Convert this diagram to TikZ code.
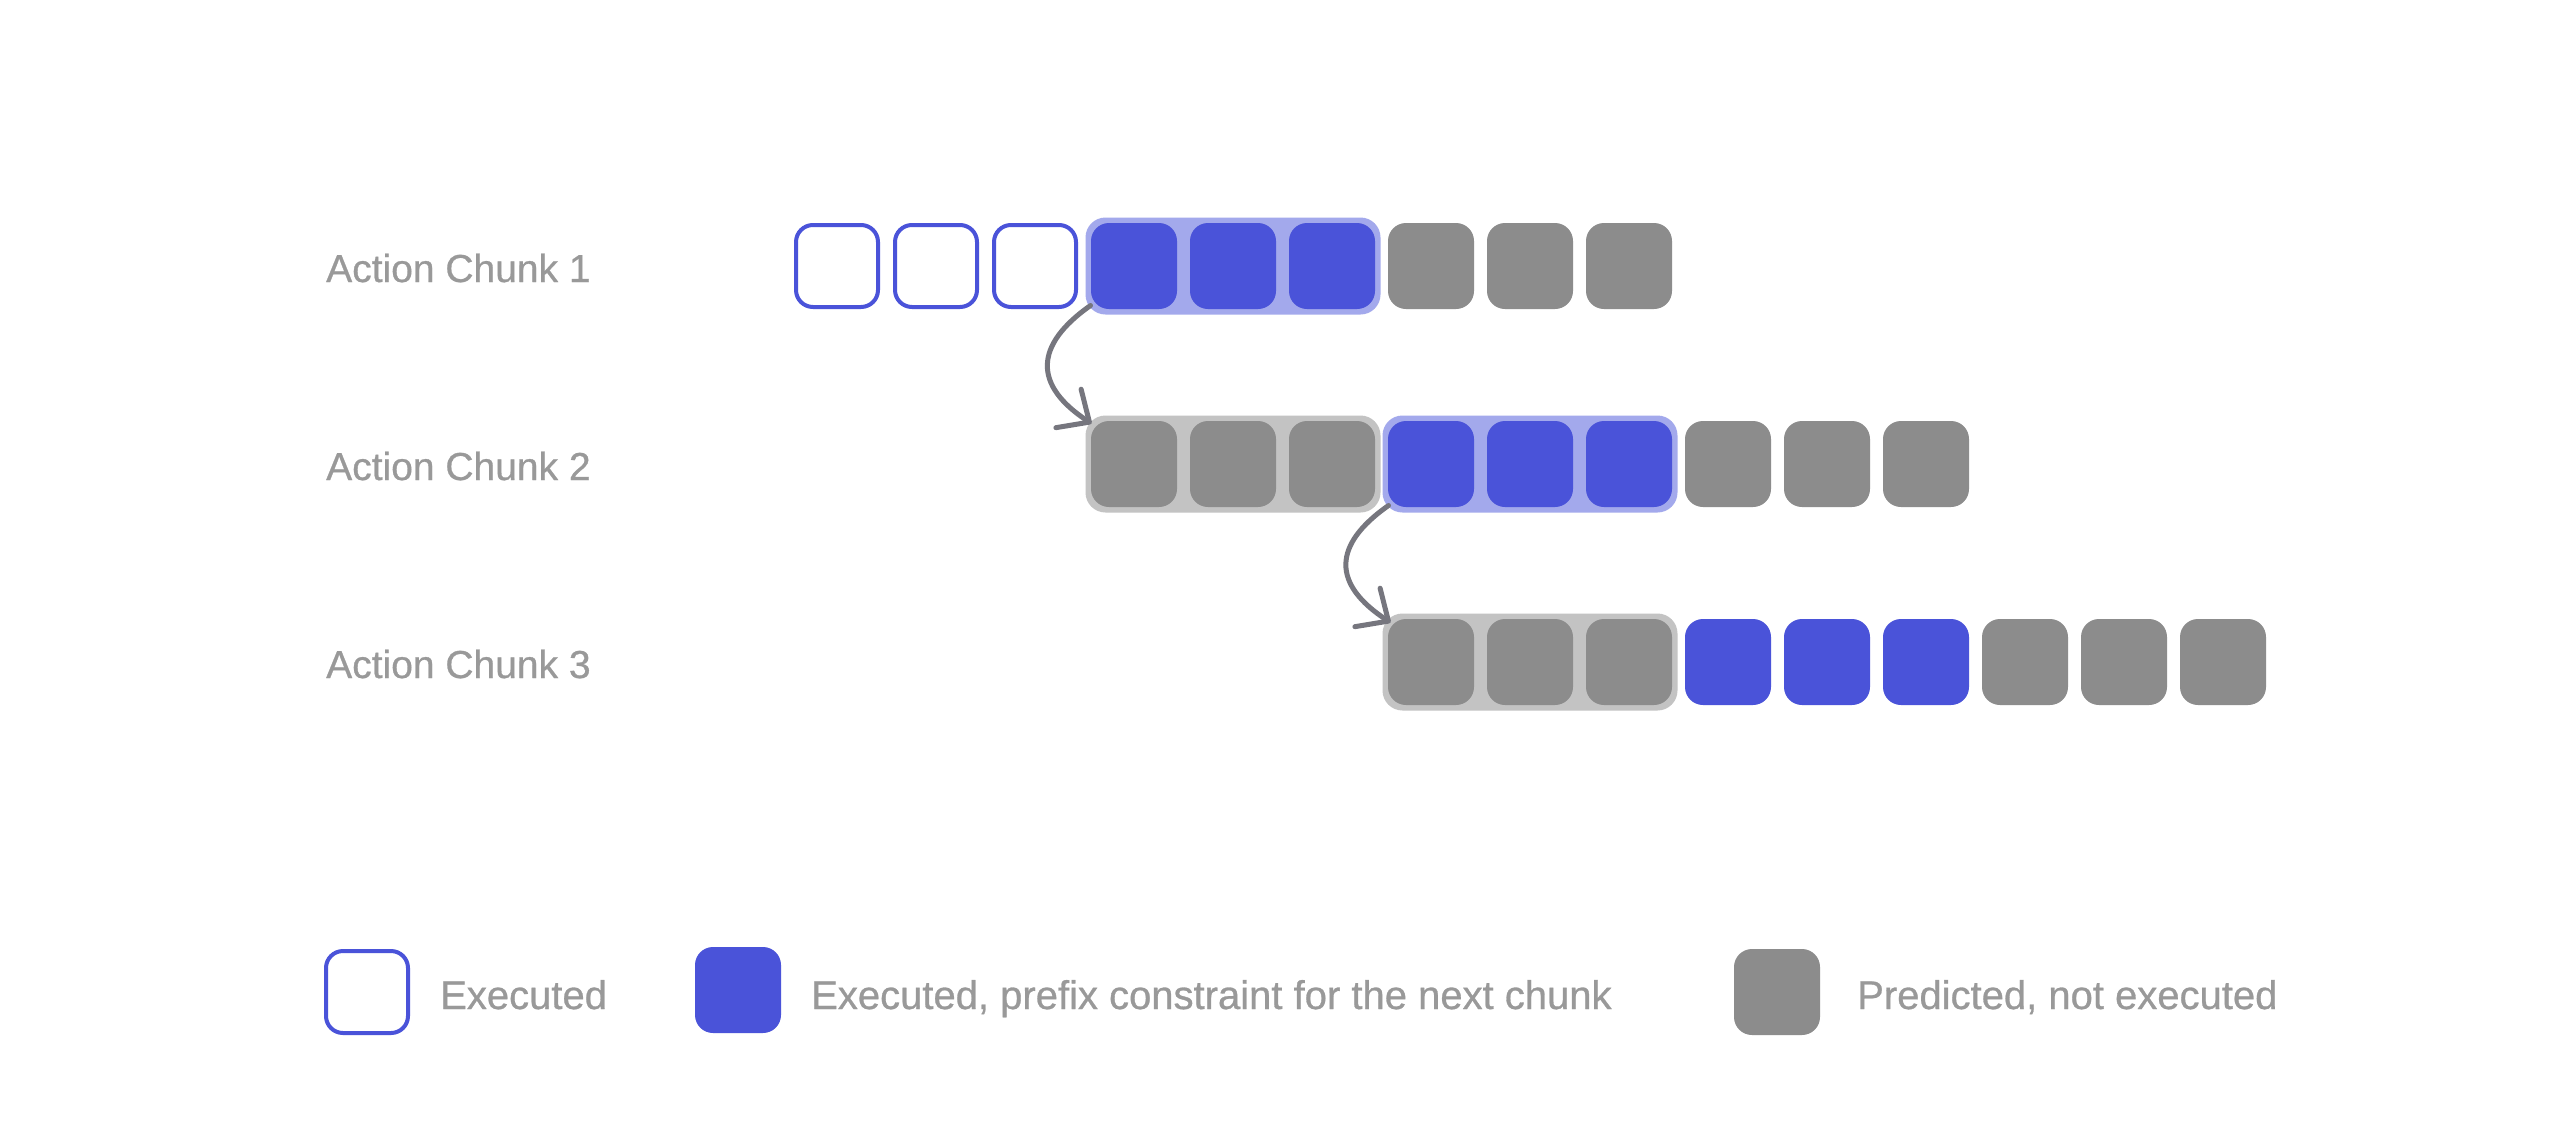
\documentclass[tikz,border=0pt]{standalone}
\usepackage{fontspec}
\setmainfont[FakeBold=0.7]{Liberation Sans}
\usetikzlibrary{arrows.meta,calc}
\definecolor{cblue}{HTML}{4A53D9}
\definecolor{clblue}{HTML}{A3A9EC}
\definecolor{cgrey}{HTML}{8C8C8C}
\definecolor{clgrey}{HTML}{C3C3C3}
\definecolor{ctext}{HTML}{999999}
\definecolor{carrow}{HTML}{76767E}
\begin{document}
\begin{tikzpicture}[x=1pt,y=-1pt,
  box/.style={rounded corners=18pt, minimum size=86pt, inner sep=0pt, outer sep=0pt},
  exec/.style={box, draw=cblue, line width=4pt, fill=white, minimum size=82pt, rounded corners=17pt},
  pref/.style={box, fill=cblue},
  pred/.style={box, fill=cgrey},
  grp/.style={rounded corners=20pt, minimum width=295pt, minimum height=97pt, inner sep=0pt, outer sep=0pt},
  bgrp/.style={grp, fill=clblue},
  ggrp/.style={grp, fill=clgrey},
  lbl/.style={text=ctext, font=\fontsize{39}{47}\selectfont, anchor=base west, inner sep=0pt},
  leg/.style={text=ctext, font=\fontsize{40}{48}\selectfont, anchor=base west, inner sep=0pt},
  flow/.style={draw=carrow, line width=5pt, line cap=round, -{Straight Barb[length=25pt,width=46pt,round]}}
]
\useasboundingbox[fill=white] (0,0) rectangle (2560,1128);

% row labels
\node[lbl] (l1) at (326,282) {Action Chunk 1};
\node[lbl] (l2) at (326,480) {Action Chunk 2};
\node[lbl] (l3) at (326,678) {Action Chunk 3};

% groups
\node[bgrp] (g1)  at ({837+99*4},266) {};
\node[ggrp] (g2a) at ({837+99*4},464) {};
\node[bgrp] (g2b) at ({837+99*7},464) {};
\node[ggrp] (g3a) at ({837+99*7},662) {};

% row 1
\foreach \i in {0,1,2} \node[exec] (r1b\i) at ({837+99*\i},266) {};
\foreach \i in {3,4,5} \node[pref] (r1b\i) at ({837+99*\i},266) {};
\foreach \i in {6,7,8} \node[pred] (r1b\i) at ({837+99*\i},266) {};
% row 2
\foreach \i in {3,4,5} \node[pred] (r2b\i) at ({837+99*\i},464) {};
\foreach \i in {6,7,8} \node[pref] (r2b\i) at ({837+99*\i},464) {};
\foreach \i in {9,10,11} \node[pred] (r2b\i) at ({837+99*\i},464) {};
% row 3
\foreach \i in {6,7,8} \node[pred] (r3b\i) at ({837+99*\i},662) {};
\foreach \i in {9,10,11} \node[pref] (r3b\i) at ({837+99*\i},662) {};
\foreach \i in {12,13,14} \node[pred] (r3b\i) at ({837+99*\i},662) {};

% arrows
\draw[flow] ([xshift=5pt,yshift=9pt]g1.south west)
  .. controls +(-57pt,-40pt) and +(-58pt,38pt) ..
  ([xshift=6pt,yshift=-8pt]g2a.north west);
\draw[flow] ([xshift=6pt,yshift=7pt]g2b.south west)
  .. controls +(-57pt,-40pt) and +(-58pt,38pt) ..
  ([xshift=8pt,yshift=-9pt]g3a.north west);

% legend
\node[exec] (k1) at (367,992) {};
\node[leg] (t1) at (440,1009) {Executed};
\node[pref] (k2) at (738,990) {};
\node[leg] (t2) at (811,1009) {Executed, prefix constraint for the next chunk};
\node[pred] (k3) at (1777,992) {};
\node[leg] (t3) at (1857,1009) {Predicted, not executed};
\end{tikzpicture}
\end{document}
